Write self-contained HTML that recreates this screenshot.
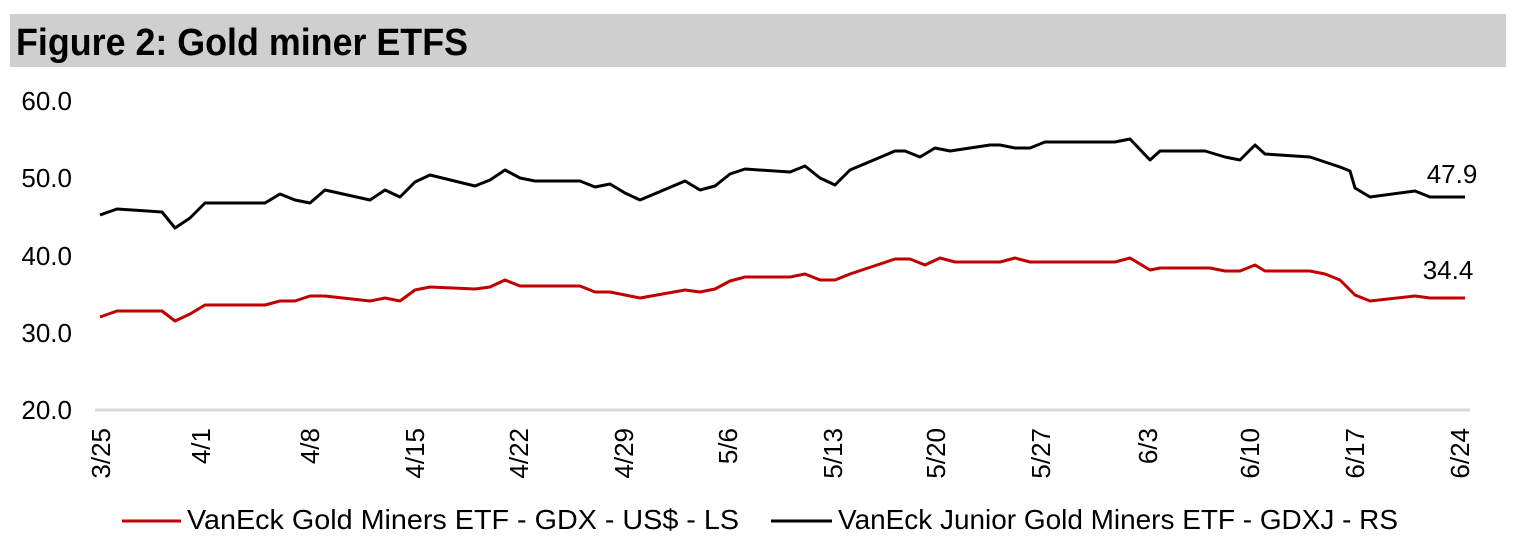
<!DOCTYPE html>
<html><head><meta charset="utf-8"><style>
html,body{margin:0;padding:0;background:#fff;}
body{width:1525px;height:547px;overflow:hidden;position:relative;font-family:"Liberation Sans",Arial,sans-serif;}
</style></head><body>
<svg width="1525" height="547" viewBox="0 0 1525 547" xmlns="http://www.w3.org/2000/svg" style="position:absolute;left:0;top:0">
<rect x="10" y="14" width="1496" height="53" fill="#d0cfcf"/>
<text x="16" y="55" font-family="Liberation Sans, Arial, sans-serif" font-weight="bold" font-size="38" fill="#000" textLength="452" lengthAdjust="spacingAndGlyphs">Figure 2: Gold miner ETFS</text>
<g font-family="Liberation Sans, Arial, sans-serif" font-size="26" fill="#000" text-anchor="end">
<text x="72" y="110">60.0</text>
<text x="72" y="187">50.0</text>
<text x="72" y="265">40.0</text>
<text x="72" y="342">30.0</text>
<text x="72" y="419">20.0</text>
</g>
<line x1="95" y1="410" x2="1470" y2="410" stroke="#d9d9d9" stroke-width="3"/>
<g font-family="Liberation Sans, Arial, sans-serif" font-size="26" fill="#000" text-anchor="end">
<text transform="translate(110 428) rotate(-90)">3/25</text>
<text transform="translate(210 428) rotate(-90)">4/1</text>
<text transform="translate(319 428) rotate(-90)">4/8</text>
<text transform="translate(424 428) rotate(-90)">4/15</text>
<text transform="translate(528 428) rotate(-90)">4/22</text>
<text transform="translate(633 428) rotate(-90)">4/29</text>
<text transform="translate(737 428) rotate(-90)">5/6</text>
<text transform="translate(842 428) rotate(-90)">5/13</text>
<text transform="translate(945 428) rotate(-90)">5/20</text>
<text transform="translate(1050 428) rotate(-90)">5/27</text>
<text transform="translate(1157 428) rotate(-90)">6/3</text>
<text transform="translate(1259 428) rotate(-90)">6/10</text>
<text transform="translate(1364 428) rotate(-90)">6/17</text>
<text transform="translate(1469 428) rotate(-90)">6/24</text>
</g>
<polyline fill="none" stroke="#000" stroke-width="3" stroke-linejoin="round" points="100,215 117,209 162,212 175,228 190,218 205,203 265,203 280,194 295,200 310,203 325,190 370,200 385,190 400,197 415,182 430,175 475,186 490,180 505,170 520,178 535,181 580,181 595,187 610,184 625,193 640,200 685,181 700,190 715,186 730,174 745,169 790,172 805,166 820,178 835,185 850,170 895,151 905,151 920,157 935,148 950,151 990,145 1000,145 1015,148 1030,148 1045,142 1115,142 1130,139 1150,160 1160,151 1205,151 1225,157 1240,160 1255,145 1265,154 1310,157 1340,167 1350,171 1355,188 1370,197 1415,191 1430,197 1465,197"/>
<polyline fill="none" stroke="#c00000" stroke-width="3" stroke-linejoin="round" points="100,317 117,311 162,311 175,321 190,314 205,305 265,305 280,301 295,301 310,296 325,296 370,301 385,298 400,301 415,290 430,287 475,289 490,287 505,280 520,286 580,286 595,292 610,292 640,298 685,290 700,292 715,289 730,281 745,277 790,277 805,274 820,280 835,280 850,274 895,259 910,259 925,265 940,258 955,262 1000,262 1015,258 1030,262 1115,262 1130,258 1150,270 1160,268 1210,268 1225,271 1240,271 1255,265 1265,271 1310,271 1325,274 1340,280 1355,295 1370,301 1415,296 1430,298 1465,298"/>
<g font-family="Liberation Sans, Arial, sans-serif" font-size="26" fill="#000" text-anchor="middle">
<text x="1452" y="183">47.9</text>
<text x="1448" y="279">34.4</text>
</g>
<line x1="122" y1="521" x2="181" y2="521" stroke="#c00000" stroke-width="3"/>
<line x1="771" y1="521" x2="832" y2="521" stroke="#000" stroke-width="3"/>
<g font-family="Liberation Sans, Arial, sans-serif" font-size="28" fill="#000">
<text x="187" y="529" textLength="552" lengthAdjust="spacingAndGlyphs">VanEck Gold Miners ETF  - GDX  - US$ - LS</text>
<text x="838" y="529" textLength="560" lengthAdjust="spacingAndGlyphs">VanEck Junior Gold Miners ETF - GDXJ - RS</text>
</g>
</svg>
</body></html>
